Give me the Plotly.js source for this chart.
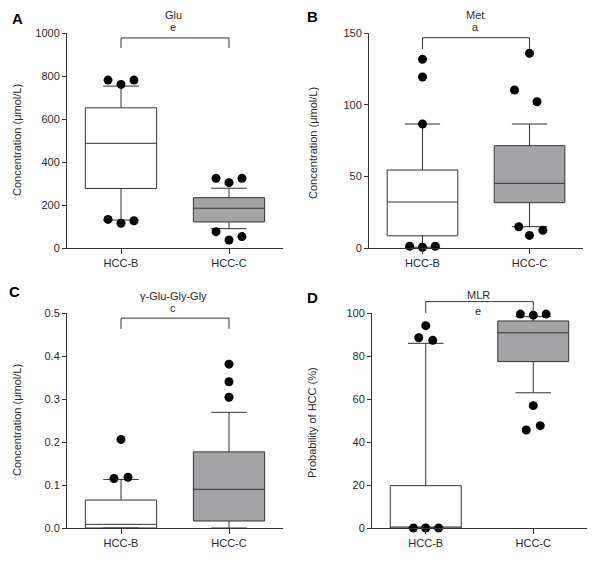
<!DOCTYPE html>
<html><head><meta charset="utf-8">
<script src="https://cdn.plot.ly/plotly-3.0.1.min.js"></script>
<style>html,body{margin:0;padding:0;background:#fff}#chart{width:600px;height:563px}</style>
</head><body><div id="chart"></div>
<script>
// ---------- data ----------
var groups = ['HCC-B', 'HCC-C'];

// Panel A: Glu (µmol/L)
var gluQ1 = [277, 121], gluMed = [487, 185], gluQ3 = [652, 234], gluLo = [130, 90], gluHi = [753, 278];
var gluOutB = [781, 761, 781, 133, 115, 127];
var gluOutC = [324, 304, 324, 76, 37, 53];

// Panel B: Met (µmol/L)
var metQ1 = [8.5, 31.6], metMed = [32.1, 45.1], metQ3 = [54.4, 71.4], metLo = [0.5, 14.9], metHi = [86.5, 86.5];
var metOutB = [131.6, 119.3, 86.5, 1.2, 0.5, 1.2];
var metOutC = [135.8, 110.2, 102, 14.8, 8.8, 12.3];

// Panel C: gamma-Glu-Gly-Gly (µmol/L)
var gggQ1 = [0, 0.0163], gggMed = [0.0085, 0.09], gggQ3 = [0.065, 0.177], gggLo = [0, 0], gggHi = [0.113, 0.269];
var gggOutB = [0.206, 0.115, 0.118];
var gggOutC = [0.381, 0.340, 0.304];

// Panel D: MLR probability of HCC (%)
var mlrQ1 = [0, 77.4], mlrMed = [0, 90.8], mlrQ3 = [19.7, 96.3], mlrLo = [0, 62.9], mlrHi = [85.9, 98.3];
var mlrOutB = [94.1, 88.5, 87.3, 0, 0, 0];
var mlrOutC = [99.5, 99, 99.5, 56.9, 45.6, 47.6];

var panelLetters = ['A', 'B', 'C', 'D'];
var panelNames = ['Glu', 'Met', 'γ-Glu-Gly-Gly', 'MLR'];
var sigMarks = ['e', 'a', 'c', 'e'];
var yTitles = ['Concentration (μmol/L)', 'Concentration (μmol/L)', 'Concentration (μmol/L)', 'Probability of HCC (%)'];

// ---------- styling / layout helpers (positions, not data) ----------
var dx3 = [-0.12, 0, 0.12, -0.12, 0, 0.12];
var dxMetB = [0, 0, 0, -0.12, 0, 0.12];
var dxMetC = [0, -0.14, 0.07, -0.1, 0, 0.125];
var dxGggB = [0, -0.065, 0.065];
var dxGggC = [0, 0, 0];
var dxMlrB = [0, -0.065, 0.065, -0.115, 0, 0.12];
var dxMlrC = [-0.12, 0, 0.12, 0, -0.065, 0.065];

var W = 600, H = 563;
function px(x) { return x / W; }
function py(y) { return 1 - y / H; }

var fills = ['#ffffff', '#a4a4a7'];
var lineCol = '#333333';
var txtCol = '#2a2a2a';
var FONT = 'Liberation Sans, Arial, sans-serif';

var traces = [];
function addPanel(ax, q1, med, q3, lo, hi, outs, dxs) {
  var xa = 'x' + (ax === 1 ? '' : ax), ya = 'y' + (ax === 1 ? '' : ax);
  for (var g = 0; g < 2; g++) {
    traces.push({
      type: 'box', x: [g], q1: [q1[g]], median: [med[g]], q3: [q3[g]],
      lowerfence: [lo[g]], upperfence: [hi[g]],
      width: 0.66, whiskerwidth: 0.5, boxpoints: false,
      fillcolor: fills[g], line: {color: lineCol, width: 1},
      xaxis: xa, yaxis: ya, hoverinfo: 'skip', showlegend: false
    });
    var xs = outs[g].map(function (v, i) { return g + dxs[g][i]; });
    traces.push({
      type: 'scatter', mode: 'markers', x: xs, y: outs[g],
      marker: {color: '#000', size: 9}, cliponaxis: false,
      xaxis: xa, yaxis: ya, hoverinfo: 'skip', showlegend: false
    });
  }
}
addPanel(1, gluQ1, gluMed, gluQ3, gluLo, gluHi, [gluOutB, gluOutC], [dx3, dx3]);
addPanel(2, metQ1, metMed, metQ3, metLo, metHi, [metOutB, metOutC], [dxMetB, dxMetC]);
addPanel(3, gggQ1, gggMed, gggQ3, gggLo, gggHi, [gggOutB, gggOutC], [dxGggB, dxGggC]);
addPanel(4, mlrQ1, mlrMed, mlrQ3, mlrLo, mlrHi, [mlrOutB, mlrOutC], [dxMlrB, dxMlrC]);

// axes pixel boxes [x0,x1,yTop,yBottom]
var boxes = [[67, 283, 33, 248], [369, 583, 33, 248], [67, 283, 313, 528], [372, 587, 313, 528]];
var yRanges = [[0, 1000], [0, 150], [0, 0.5], [0, 100]];
var yTicks = [[0, 200, 400, 600, 800, 1000], [0, 50, 100, 150], [0, 0.1, 0.2, 0.3, 0.4, 0.5], [0, 20, 40, 60, 80, 100]];
var yFormats = ['', '', '.1f', ''];

var layout = {
  width: W, height: H, margin: {l: 0, r: 0, t: 0, b: 0},
  paper_bgcolor: '#fff', plot_bgcolor: 'rgba(0,0,0,0)',
  font: {family: FONT, size: 11, color: txtCol},
  shapes: [], annotations: []
};
// bracket drop/top levels as fraction of the y-axis domain
var bracket = [[0.93, 0.977], [0.926, 0.978], [0.926, 0.976], [1.0, 1.053]];
var titlePos = [[173, 15, 27], [475, 15, 27], [173, 296, 308], [478, 295, 311]];
var letterPos = [[17, 18], [312, 17], [14, 291], [313, 297]];
var yTitlePos = [[17, 140], [313, 143], [17, 420], [312, 423]];

for (var i = 0; i < 4; i++) {
  var b = boxes[i], n = i === 0 ? '' : (i + 1);
  layout['xaxis' + n] = {
    domain: [px(b[0]), px(b[1])], anchor: 'y' + n, range: [-0.5, 1.5],
    tickvals: [0, 1], ticktext: groups, ticks: 'outside', ticklen: 5, tickcolor: lineCol,
    showline: true, linecolor: lineCol, linewidth: 1, showgrid: false, zeroline: false,
    tickfont: {family: FONT, size: 11, color: txtCol}, fixedrange: true
  };
  layout['yaxis' + n] = {
    domain: [py(b[3]), py(b[2])], anchor: 'x' + n, range: yRanges[i],
    tickvals: yTicks[i], tickformat: yFormats[i], ticks: 'outside', ticklen: 4, tickcolor: lineCol,
    showline: true, linecolor: lineCol, linewidth: 1, showgrid: false, zeroline: false,
    tickfont: {family: FONT, size: 11, color: txtCol}, fixedrange: true
  };
  var xr = 'x' + n + ' domain', yr = 'y' + n + ' domain';
  if (i === 0) { xr = 'x domain'; yr = 'y domain'; }
  var bl = bracket[i];
  layout.shapes.push({type: 'line', xref: xr, yref: yr, x0: 0.25, x1: 0.75, y0: bl[1], y1: bl[1], line: {color: lineCol, width: 1}});
  layout.shapes.push({type: 'line', xref: xr, yref: yr, x0: 0.25, x1: 0.25, y0: bl[0], y1: bl[1], line: {color: lineCol, width: 1}});
  layout.shapes.push({type: 'line', xref: xr, yref: yr, x0: 0.75, x1: 0.75, y0: bl[0], y1: bl[1], line: {color: lineCol, width: 1}});
  var tp = titlePos[i];
  layout.annotations.push({xref: 'paper', yref: 'paper', x: px(tp[0]), y: py(tp[1]), text: panelNames[i], showarrow: false, xanchor: 'center', yanchor: 'middle', font: {family: FONT, size: 11, color: txtCol}});
  layout.annotations.push({xref: 'paper', yref: 'paper', x: px(tp[0]), y: py(tp[2]), text: sigMarks[i], showarrow: false, xanchor: 'center', yanchor: 'middle', font: {family: FONT, size: 11, color: txtCol}});
  var lp = letterPos[i];
  layout.annotations.push({xref: 'paper', yref: 'paper', x: px(lp[0]), y: py(lp[1]), text: '<b>' + panelLetters[i] + '</b>', showarrow: false, xanchor: 'center', yanchor: 'middle', font: {family: FONT, size: 15, color: '#000'}});
  var yp = yTitlePos[i];
  layout.annotations.push({xref: 'paper', yref: 'paper', x: px(yp[0]), y: py(yp[1]), text: yTitles[i], textangle: -90, showarrow: false, xanchor: 'center', yanchor: 'middle', font: {family: FONT, size: 11, color: txtCol}});
}

Plotly.newPlot('chart', traces, layout, {staticPlot: true, displayModeBar: false});
</script></body></html>
